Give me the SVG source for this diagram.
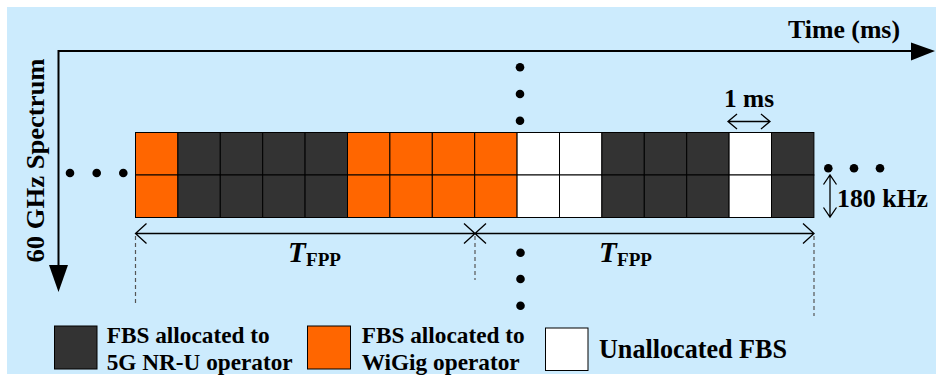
<svg xmlns="http://www.w3.org/2000/svg" width="936" height="379" viewBox="0 0 936 379">
<style>
.t{font-family:"Liberation Serif","Times New Roman",serif;font-weight:bold;fill:#000}
.dk{fill:#333333;stroke:#000;stroke-width:1}
.or{fill:#FF6600;stroke:#000;stroke-width:1}
.wh{fill:#FFFFFF;stroke:#000;stroke-width:1}
.ax{stroke:#000;stroke-width:2;fill:none}
.ar{stroke:#000;stroke-width:1.3;fill:none}
.ds{stroke:#555;stroke-width:1.2;stroke-dasharray:4 3;fill:none}
.dot{fill:#000}
</style>
<rect x="7" y="7" width="929" height="367" fill="#CCEBFD"/>
<g id="axes">
  <path class="ax" d="M58.5 51 H912 M58.5 50 V266"/>
  <polygon points="911,42.5 935,51 911,60.5" fill="#000"/>
  <polygon points="49,265 68,265 58.5,292" fill="#000"/>
  <text class="t" x="788" y="38" font-size="24.5" textLength="112" lengthAdjust="spacingAndGlyphs">Time (ms)</text>
  <text class="t" transform="translate(43.5,160.5) rotate(-90)" x="-102" y="0" font-size="25" textLength="204" lengthAdjust="spacingAndGlyphs">60 GHz Spectrum</text>
</g>
<g id="grid">
  <rect class="or" x="135.5" y="132.5" width="42.4" height="42.5"/>
  <rect class="or" x="135.5" y="175" width="42.4" height="42.5"/>
  <rect class="dk" x="177.9" y="132.5" width="42.4" height="42.5"/>
  <rect class="dk" x="177.9" y="175" width="42.4" height="42.5"/>
  <rect class="dk" x="220.3" y="132.5" width="42.4" height="42.5"/>
  <rect class="dk" x="220.3" y="175" width="42.4" height="42.5"/>
  <rect class="dk" x="262.7" y="132.5" width="42.4" height="42.5"/>
  <rect class="dk" x="262.7" y="175" width="42.4" height="42.5"/>
  <rect class="dk" x="305.1" y="132.5" width="42.4" height="42.5"/>
  <rect class="dk" x="305.1" y="175" width="42.4" height="42.5"/>
  <rect class="or" x="347.5" y="132.5" width="42.4" height="42.5"/>
  <rect class="or" x="347.5" y="175" width="42.4" height="42.5"/>
  <rect class="or" x="389.9" y="132.5" width="42.4" height="42.5"/>
  <rect class="or" x="389.9" y="175" width="42.4" height="42.5"/>
  <rect class="or" x="432.3" y="132.5" width="42.4" height="42.5"/>
  <rect class="or" x="432.3" y="175" width="42.4" height="42.5"/>
  <rect class="or" x="474.7" y="132.5" width="42.4" height="42.5"/>
  <rect class="or" x="474.7" y="175" width="42.4" height="42.5"/>
  <rect class="wh" x="517.1" y="132.5" width="42.4" height="42.5"/>
  <rect class="wh" x="517.1" y="175" width="42.4" height="42.5"/>
  <rect class="wh" x="559.5" y="132.5" width="42.4" height="42.5"/>
  <rect class="wh" x="559.5" y="175" width="42.4" height="42.5"/>
  <rect class="dk" x="601.9" y="132.5" width="42.4" height="42.5"/>
  <rect class="dk" x="601.9" y="175" width="42.4" height="42.5"/>
  <rect class="dk" x="644.3" y="132.5" width="42.4" height="42.5"/>
  <rect class="dk" x="644.3" y="175" width="42.4" height="42.5"/>
  <rect class="dk" x="686.7" y="132.5" width="42.4" height="42.5"/>
  <rect class="dk" x="686.7" y="175" width="42.4" height="42.5"/>
  <rect class="wh" x="729.1" y="132.5" width="42.4" height="42.5"/>
  <rect class="wh" x="729.1" y="175" width="42.4" height="42.5"/>
  <rect class="dk" x="771.5" y="132.5" width="42.4" height="42.5"/>
  <rect class="dk" x="771.5" y="175" width="42.4" height="42.5"/>
</g>
<g id="dots">
  <circle class="dot" cx="70" cy="173" r="4.3"/>
  <circle class="dot" cx="96.7" cy="173" r="4.3"/>
  <circle class="dot" cx="123.3" cy="173" r="4.3"/>
  <circle class="dot" cx="828.3" cy="168.3" r="4.3"/>
  <circle class="dot" cx="854" cy="168.3" r="4.3"/>
  <circle class="dot" cx="880" cy="168.3" r="4.3"/>
  <circle class="dot" cx="520" cy="67.3" r="4.3"/>
  <circle class="dot" cx="520" cy="94" r="4.3"/>
  <circle class="dot" cx="520" cy="120.7" r="4.3"/>
  <circle class="dot" cx="520.5" cy="252.7" r="4.3"/>
  <circle class="dot" cx="520.5" cy="279" r="4.3"/>
  <circle class="dot" cx="520.5" cy="305.7" r="4.3"/>
</g>
<g id="connectors">
  <path class="ar" d="M135.5 233.5 H814 M146.5 223.5 L135.5 233.5 L146.5 243.5 M464 223.5 L486 243.5 M464 243.5 L486 223.5 M803 223.5 L814 233.5 L803 243.5"/>
  <path class="ar" d="M728 121.5 H770 M737 114 L728 121.5 L737 129 M761 114 L770 121.5 L761 129"/>
  <path class="ar" d="M830 175 V217 M823.5 184.5 L830 175 L836.5 184.5 M823.5 207.5 L830 217 L836.5 207.5"/>
  <path class="ds" d="M135.5 236 V305 M475 236 V280 M814 236 V316"/>
</g>
<g id="labels">
  <text class="t" x="724" y="107" font-size="26" textLength="50" lengthAdjust="spacingAndGlyphs">1 ms</text>
  <text class="t" x="837" y="207" font-size="26" textLength="91" lengthAdjust="spacingAndGlyphs">180 kHz</text>
  <text class="t" x="288" y="262" font-size="29" font-style="italic">T</text>
  <text class="t" x="306" y="266" font-size="18" textLength="35" lengthAdjust="spacingAndGlyphs">FPP</text>
  <text class="t" x="599" y="262" font-size="29" font-style="italic">T</text>
  <text class="t" x="617" y="266" font-size="18" textLength="35" lengthAdjust="spacingAndGlyphs">FPP</text>
</g>
<g id="legend-nru">
  <rect class="dk" x="54.5" y="326" width="42.5" height="43"/>
  <text class="t" x="106.7" y="343" font-size="23" textLength="163" lengthAdjust="spacingAndGlyphs">FBS allocated to</text>
  <text class="t" x="106.7" y="369.5" font-size="23" textLength="186" lengthAdjust="spacingAndGlyphs">5G NR-U operator</text>
</g>
<g id="legend-wigig">
  <rect class="or" x="307.5" y="326" width="43" height="43"/>
  <text class="t" x="361.7" y="343" font-size="23" textLength="163" lengthAdjust="spacingAndGlyphs">FBS allocated to</text>
  <text class="t" x="361.7" y="369.5" font-size="23" textLength="158" lengthAdjust="spacingAndGlyphs">WiGig operator</text>
</g>
<g id="legend-unalloc">
  <rect class="wh" x="545.5" y="328" width="42.5" height="42.5"/>
  <text class="t" x="599" y="358" font-size="27" textLength="188" lengthAdjust="spacingAndGlyphs">Unallocated FBS</text>
</g>
</svg>
